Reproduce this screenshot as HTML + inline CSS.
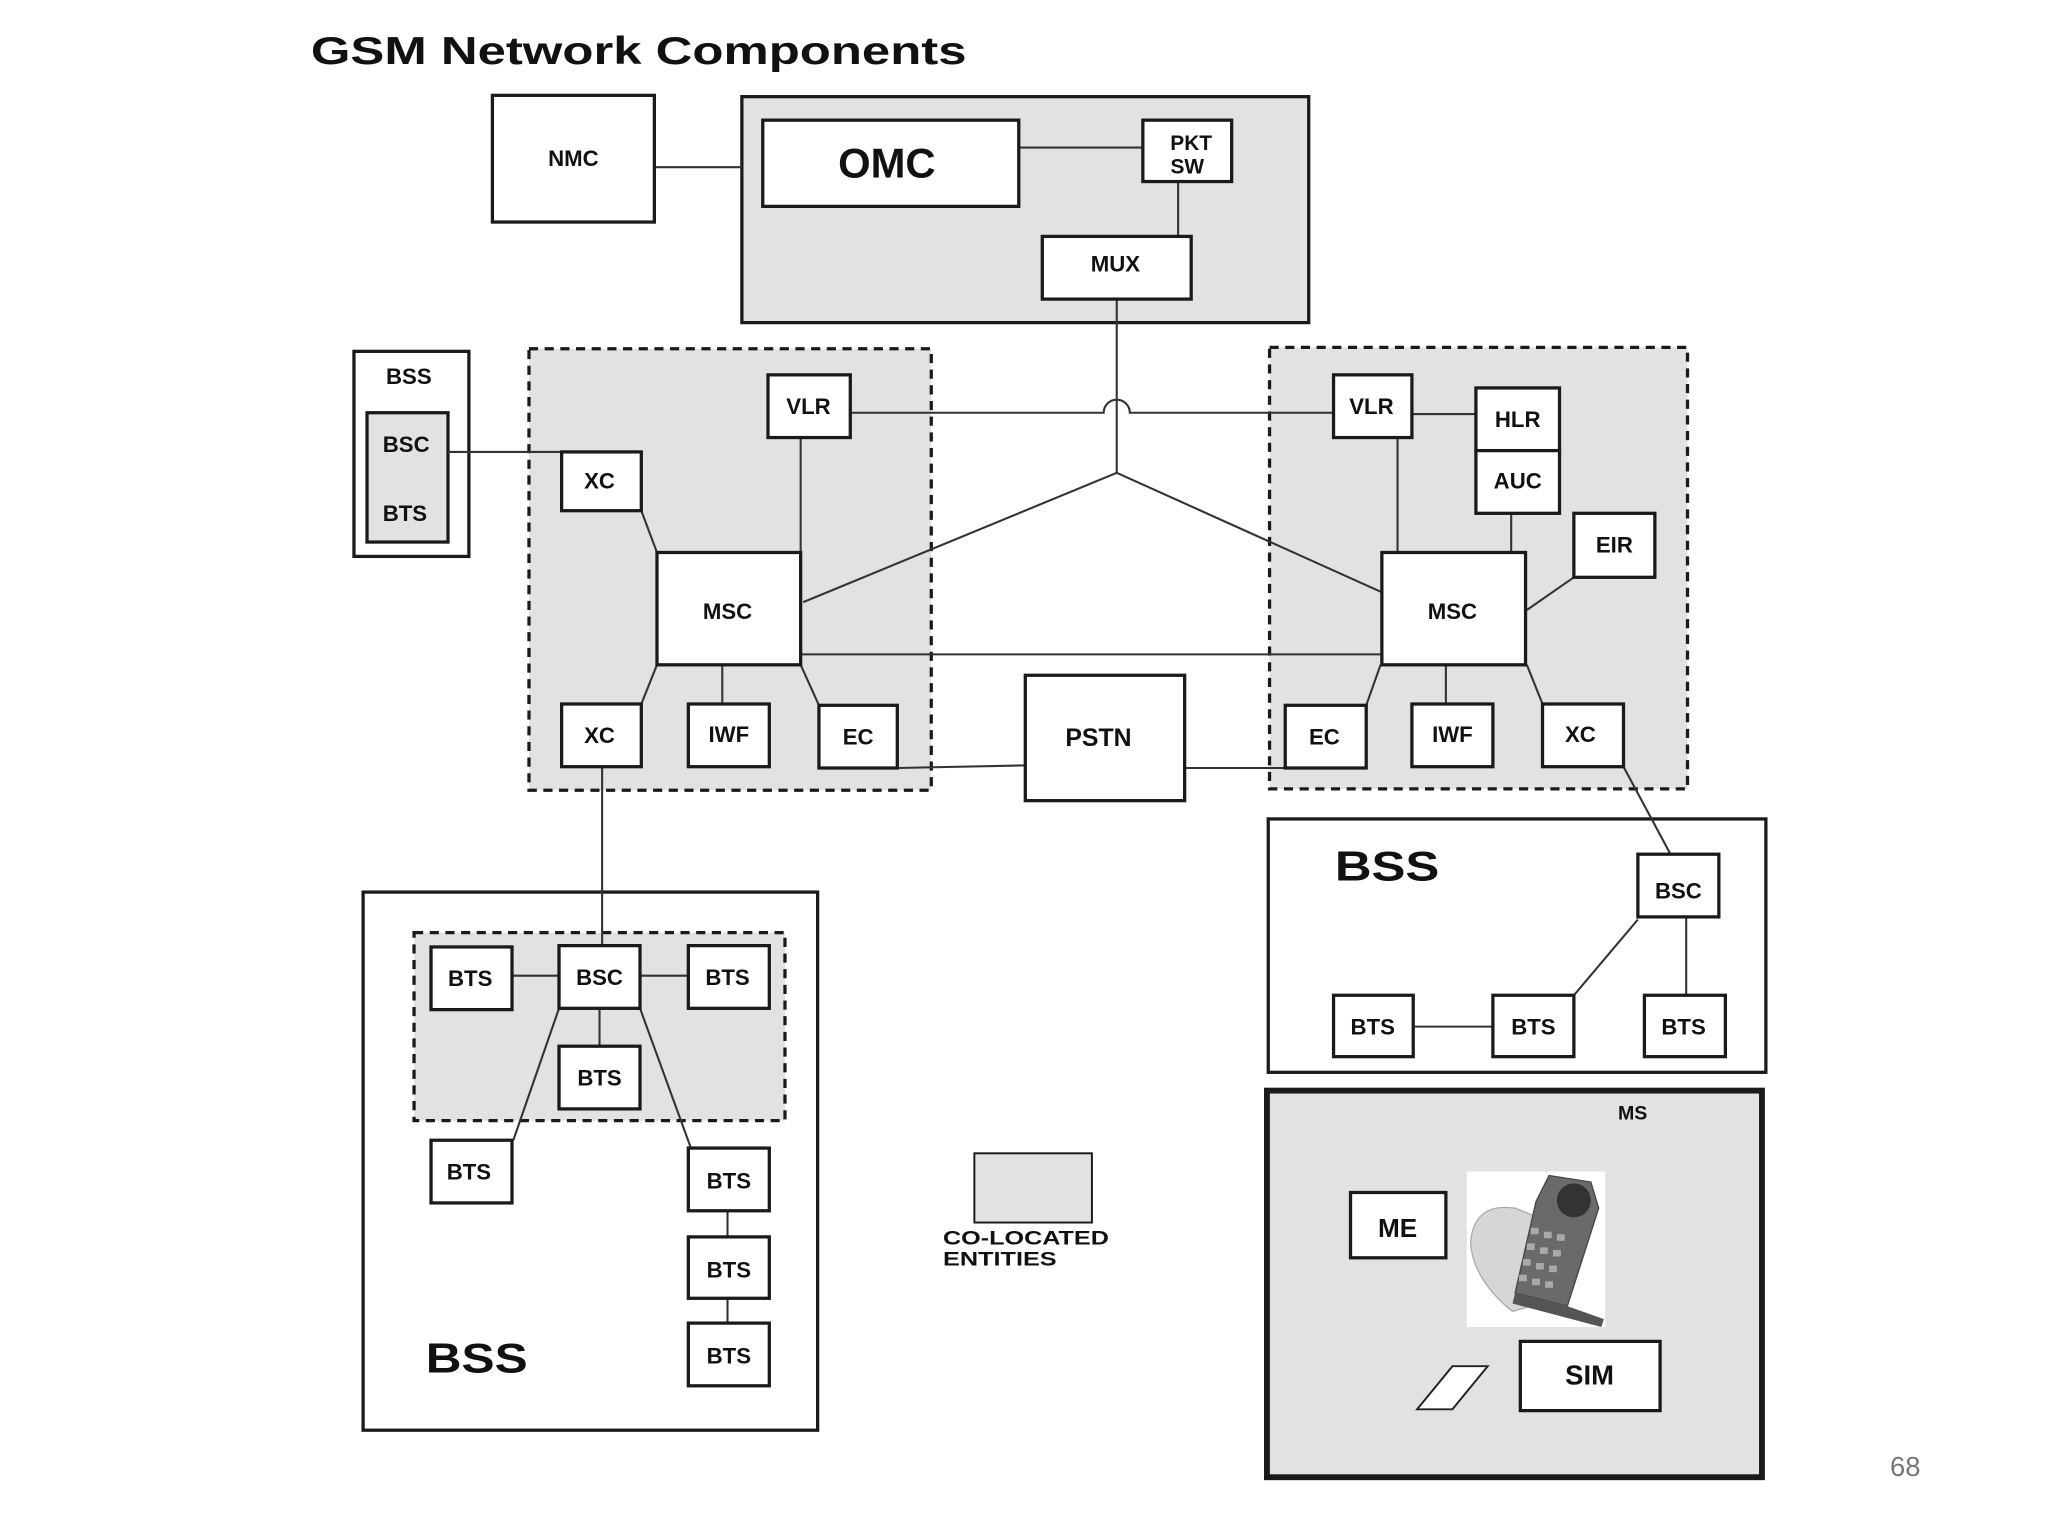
<!DOCTYPE html>
<html><head><meta charset="utf-8"><style>
html,body{margin:0;padding:0;background:#fff;}
svg{display:block;}
text{font-family:"Liberation Sans",Arial,sans-serif;font-weight:bold;fill:#111;}
</style></head><body>
<svg width="2048" height="1536" viewBox="0 0 1568 1176" preserveAspectRatio="none" xmlns="http://www.w3.org/2000/svg">
<rect width="1568" height="1176" fill="#fff"/>
<text x="238" y="49" font-size="30" textLength="502" lengthAdjust="spacingAndGlyphs" fill="#222">GSM Network Components</text>

<g stroke="#1a1a1a" stroke-width="2.5">
<rect x="568" y="74" width="434" height="173" fill="#e1e2e3"/>
<rect x="405" y="267" width="308" height="338" fill="#e1e2e3" stroke-dasharray="7,5"/>
<rect x="972" y="266" width="320" height="338" fill="#e1e2e3" stroke-dasharray="7,5"/>
<rect x="271" y="269" width="88" height="157" fill="#fff"/>
<rect x="281" y="316" width="62" height="99" fill="#e1e2e3"/>
<rect x="278" y="683" width="348" height="412" fill="#fff"/>
<rect x="317" y="714" width="284" height="144" fill="#e1e2e3" stroke-dasharray="7,5"/>
<rect x="971" y="627" width="381" height="194" fill="#fff"/>
<rect x="970" y="835" width="379" height="296" fill="#e1e2e3" stroke-width="4.5"/>
<rect x="746" y="883" width="90" height="53" fill="#e1e2e3" stroke-width="1.5"/>
</g>

<g stroke="#333" stroke-width="1.6" fill="none">
<line x1="501" y1="128" x2="568" y2="128"/>
<line x1="780" y1="113" x2="875" y2="113"/>
<line x1="902" y1="139" x2="902" y2="181"/>
<line x1="855" y1="229" x2="855" y2="362"/>
<path d="M652 316 H845 A10 10 0 0 1 865 316 H1021"/>
<line x1="855" y1="362" x2="615" y2="461"/>
<line x1="855" y1="362" x2="1057" y2="453"/>
<line x1="343" y1="346" x2="430" y2="346"/>
<line x1="613" y1="335" x2="613" y2="423"/>
<line x1="491" y1="391" x2="503" y2="423"/>
<line x1="503" y1="509" x2="491" y2="539"/>
<line x1="553" y1="509" x2="553" y2="539"/>
<line x1="613" y1="509" x2="627" y2="540"/>
<line x1="613" y1="501" x2="1058" y2="501"/>
<line x1="687" y1="588" x2="785" y2="586"/>
<line x1="907" y1="588" x2="984" y2="588"/>
<line x1="1081" y1="317" x2="1130" y2="317"/>
<line x1="1070" y1="335" x2="1070" y2="423"/>
<line x1="1157" y1="393" x2="1157" y2="423"/>
<line x1="1205" y1="442" x2="1169" y2="467"/>
<line x1="1057" y1="509" x2="1046" y2="540"/>
<line x1="1107" y1="509" x2="1107" y2="539"/>
<line x1="1169" y1="509" x2="1181" y2="539"/>
<line x1="1243" y1="587" x2="1279" y2="654"/>
<line x1="1082" y1="786" x2="1143" y2="786"/>
<line x1="1254" y1="704" x2="1205" y2="762"/>
<line x1="1291" y1="702" x2="1291" y2="762"/>
<line x1="461" y1="587" x2="461" y2="724"/>
<line x1="392" y1="747" x2="428" y2="747"/>
<line x1="490" y1="747" x2="527" y2="747"/>
<line x1="459" y1="772" x2="459" y2="801"/>
<line x1="428" y1="772" x2="393" y2="873"/>
<line x1="490" y1="772" x2="529" y2="879"/>
<line x1="557" y1="927" x2="557" y2="947"/>
<line x1="557" y1="994" x2="557" y2="1013"/>
</g>

<g stroke="#1a1a1a" stroke-width="2.5" fill="#fff">
<rect x="377" y="73" width="124" height="97"/>
<rect x="584" y="92" width="196" height="66"/>
<rect x="875" y="92" width="68" height="47"/>
<rect x="798" y="181" width="114" height="48"/>
<rect x="588" y="287" width="63" height="48"/>
<rect x="430" y="346" width="61" height="45"/>
<rect x="503" y="423" width="110" height="86"/>
<rect x="430" y="539" width="61" height="48"/>
<rect x="527" y="539" width="62" height="48"/>
<rect x="627" y="540" width="60" height="48"/>
<rect x="785" y="517" width="122" height="96"/>
<rect x="1021" y="287" width="60" height="48"/>
<rect x="1130" y="297" width="64" height="48"/>
<rect x="1130" y="345" width="64" height="48"/>
<rect x="1205" y="393" width="62" height="49"/>
<rect x="1058" y="423" width="110" height="86"/>
<rect x="984" y="540" width="62" height="48"/>
<rect x="1081" y="539" width="62" height="48"/>
<rect x="1181" y="539" width="62" height="48"/>
<rect x="1254" y="654" width="62" height="48"/>
<rect x="1021" y="762" width="61" height="47"/>
<rect x="1143" y="762" width="62" height="47"/>
<rect x="1259" y="762" width="62" height="47"/>
<rect x="1034" y="913" width="73" height="50"/>
<rect x="1164" y="1027" width="107" height="53"/>
<rect x="330" y="725" width="62" height="48"/>
<rect x="428" y="724" width="62" height="48"/>
<rect x="527" y="724" width="62" height="48"/>
<rect x="428" y="801" width="62" height="48"/>
<rect x="330" y="873" width="62" height="48"/>
<rect x="527" y="879" width="62" height="48"/>
<rect x="527" y="947" width="62" height="47"/>
<rect x="527" y="1013" width="62" height="48"/>
</g>
<polygon points="1085,1079 1112,1046 1139,1046 1112,1079" fill="#fff" stroke="#222" stroke-width="1.5"/>

<rect x="1123" y="897" width="106" height="119" fill="#fff"/>
<path d="M1126 950 C1128 930 1140 922 1160 925 L1185 935 L1190 995 L1158 1004 C1140 990 1126 970 1126 950 Z" fill="#d6d6d6" stroke="#aaa" stroke-width="1"/>
<path d="M1186 900 L1218 905 L1224 925 L1200 1000 L1160 990 L1176 920 Z" fill="#6a6a6a" stroke="#444" stroke-width="1"/>
<circle cx="1205" cy="919" r="13" fill="#333"/>
<g fill="#aaa">
<rect x="1172" y="940" width="6" height="5"/><rect x="1182" y="943" width="6" height="5"/><rect x="1192" y="945" width="6" height="5"/>
<rect x="1169" y="952" width="6" height="5"/><rect x="1179" y="955" width="6" height="5"/><rect x="1189" y="957" width="6" height="5"/>
<rect x="1166" y="964" width="6" height="5"/><rect x="1176" y="967" width="6" height="5"/><rect x="1186" y="969" width="6" height="5"/>
<rect x="1163" y="976" width="6" height="5"/><rect x="1173" y="979" width="6" height="5"/><rect x="1183" y="981" width="6" height="5"/>
</g>
<path d="M1160 990 L1200 1000 L1228 1010 L1226 1016 L1158 998 Z" fill="#555"/>

<g font-size="17" text-anchor="middle">
<text x="439" y="127">NMC</text>
<text x="679" y="136" font-size="32">OMC</text>
<text x="912" y="115" font-size="16">PKT</text>
<text x="909" y="133" font-size="16">SW</text>
<text x="854" y="208">MUX</text>
<text x="313" y="294">BSS</text>
<text x="311" y="346">BSC</text>
<text x="310" y="399">BTS</text>
<text x="619" y="317">VLR</text>
<text x="459" y="374">XC</text>
<text x="557" y="474">MSC</text>
<text x="459" y="569">XC</text>
<text x="558" y="568">IWF</text>
<text x="657" y="570">EC</text>
<text x="841" y="571" font-size="19">PSTN</text>
<text x="1050" y="317">VLR</text>
<text x="1162" y="327">HLR</text>
<text x="1162" y="374">AUC</text>
<text x="1236" y="423">EIR</text>
<text x="1112" y="474">MSC</text>
<text x="1014" y="570">EC</text>
<text x="1112" y="568">IWF</text>
<text x="1210" y="568">XC</text>
<text x="1062" y="674" font-size="32" textLength="80" lengthAdjust="spacingAndGlyphs">BSS</text>
<text x="1285" y="688">BSC</text>
<text x="1051" y="792">BTS</text>
<text x="1174" y="792">BTS</text>
<text x="1289" y="792">BTS</text>
<text x="1250" y="857" font-size="15">MS</text>
<text x="1070" y="947" font-size="20">ME</text>
<text x="1217" y="1060" font-size="21">SIM</text>
<text x="360" y="755">BTS</text>
<text x="459" y="754">BSC</text>
<text x="557" y="754">BTS</text>
<text x="459" y="831">BTS</text>
<text x="359" y="903">BTS</text>
<text x="558" y="910">BTS</text>
<text x="558" y="978">BTS</text>
<text x="558" y="1044">BTS</text>
<text x="365" y="1051" font-size="32" textLength="78" lengthAdjust="spacingAndGlyphs">BSS</text>
</g>
<text x="722" y="953" font-size="15" textLength="127" lengthAdjust="spacingAndGlyphs">CO-LOCATED</text>
<text x="722" y="969" font-size="15" textLength="87" lengthAdjust="spacingAndGlyphs">ENTITIES</text>
<text x="1447" y="1130" font-size="21" style="font-weight:normal;fill:#777">68</text>
</svg>
</body></html>
